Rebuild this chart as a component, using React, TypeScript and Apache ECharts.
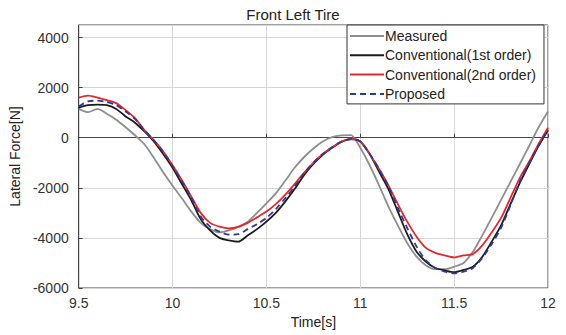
import React, { useEffect, useRef } from "react";
import * as echarts from "echarts";

const time = [
  9.5, 9.55, 9.6, 9.65, 9.7, 9.75, 9.8, 9.85, 9.9, 9.95,
  10.0, 10.05, 10.1, 10.15, 10.2, 10.25, 10.3, 10.35, 10.4, 10.45,
  10.5, 10.55, 10.6, 10.65, 10.7, 10.75, 10.8, 10.85, 10.9, 10.95,
  11.0, 11.05, 11.1, 11.15, 11.2, 11.25, 11.3, 11.35, 11.4, 11.45,
  11.5, 11.55, 11.6, 11.65, 11.7, 11.75, 11.8, 11.85, 11.9, 11.95, 12.0,
];

const measured = [
  1150, 1020, 1150, 960, 720, 420, 100, -260, -800, -1380,
  -1920, -2420, -2950, -3400, -3650, -3780, -3700, -3560, -3350, -3000,
  -2620, -2220, -1720, -1200, -780, -430, -150, 20, 90, 100,
  -400, -1100, -1900, -2750, -3500, -4200, -4750, -5100, -5250, -5250,
  -5150, -5000, -4550, -3900, -3200, -2480, -1760, -1050, -320, 420, 1050,
];

const conv1st = [
  1200, 1300, 1320, 1300, 1150, 850, 600, 250, -150, -650,
  -1200, -1850, -2500, -3250, -3700, -4000, -4100, -4150, -3900, -3650,
  -3350, -3000, -2550, -2050, -1500, -1050, -680, -400, -170, -60,
  -150, -650, -1350, -2050, -2950, -3850, -4550, -4950, -5200, -5300,
  -5370, -5280, -5150, -4750, -4150, -3500, -2650, -1800, -1050, -320, 300,
];

const conv2nd = [
  1600, 1680, 1600, 1500, 1380, 1100, 780, 300, -100, -550,
  -1100, -1700, -2350, -3000, -3400, -3550, -3620, -3560, -3400, -3180,
  -2950, -2650, -2280, -1850, -1400, -1000, -650, -380, -150, -60,
  -150, -650, -1250, -1900, -2650, -3350, -3950, -4400, -4600, -4700,
  -4780, -4700, -4640, -4300, -3780, -3200, -2400, -1600, -950, -250, 400,
];

const proposed = [
  1250, 1450, 1480, 1420, 1300, 1050, 750, 300, -100, -570,
  -1130, -1750, -2400, -3150, -3550, -3750, -3870, -3850, -3650, -3450,
  -3200, -2850, -2420, -1950, -1430, -1000, -650, -380, -150, -60,
  -150, -650, -1250, -1950, -2800, -3600, -4350, -4900, -5200, -5350,
  -5420, -5350, -5200, -4800, -4250, -3600, -2700, -1750, -1000, -300, 320,
];

const yTicks = [-6000, -4000, -2000, 0, 2000, 4000];
const xTicks = [9.5, 10, 10.5, 11, 11.5, 12];

const seriesNames = [
  "Measured",
  "Conventional(1st order)",
  "Conventional(2nd order)",
  "Proposed",
];

const FONT = "'Liberation Sans', Arial, sans-serif";

export default function App() {
  const ref = useRef<HTMLDivElement>(null);

  useEffect(() => {
    if (!ref.current) return;
    const chart = echarts.init(ref.current, undefined, { renderer: "svg" });
    const pair = (vals: number[]) => time.map((t, i) => [t, vals[i]]);
    const values = [measured, conv1st, conv2nd, proposed];
    const colors = ["#8e8e8e", "#1a1a1a", "#e8262a", "#2b3a9c"];
    chart.setOption({
      animation: false,
      textStyle: { fontFamily: FONT },
      title: {
        text: "Front Left Tire",
        left: 288,
        textAlign: "center",
        top: 2,
        textStyle: { fontSize: 15, fontWeight: "normal", color: "#222", fontFamily: FONT },
      },
      grid: {
        left: 75,
        right: 18,
        top: 25,
        bottom: 47,
        show: true,
        borderColor: "#444",
        borderWidth: 1,
        backgroundColor: "#fff",
      },
      legend: {
        data: seriesNames,
        orient: "vertical",
        left: 347,
        top: 25,
        itemWidth: 34,
        itemHeight: 14,
        itemGap: 5.3,
        padding: [4, 8, 3, 2],
        borderColor: "#333",
        borderWidth: 1,
        backgroundColor: "#fff",
        itemStyle: { opacity: 0 },
        textStyle: { fontSize: 14, color: "#222", fontFamily: FONT, padding: [0, 0, 0, -4] },
      },
      xAxis: {
        type: "value",
        min: 9.5,
        max: 12,
        interval: 0.5,
        name: "Time[s]",
        nameLocation: "middle",
        nameGap: 27,
        nameTextStyle: { fontSize: 14, color: "#222" },
        axisLine: { show: true, lineStyle: { color: "#444" } },
        axisTick: { show: true, inside: true, length: 4, lineStyle: { color: "#444" } },
        axisLabel: {
          fontSize: 14,
          color: "#333",
          margin: 8,
          formatter: (v: number) => (xTicks.includes(v) ? String(v) : ""),
        },
        splitLine: { show: true, lineStyle: { color: "#d6d6d6", width: 1 } },
      },
      yAxis: {
        type: "value",
        min: -6000,
        max: 4500,
        interval: 2000,
        name: "Lateral Force[N]",
        nameLocation: "middle",
        nameGap: 44,
        nameTextStyle: { fontSize: 14, color: "#222" },
        axisLine: { show: true, lineStyle: { color: "#444" } },
        axisTick: { show: true, inside: true, length: 4, lineStyle: { color: "#444" } },
        axisLabel: {
          fontSize: 14,
          color: "#333",
          margin: 10,
          showMaxLabel: false,
          formatter: (v: number) => (yTicks.includes(v) ? String(v) : ""),
        },
        splitLine: { show: true, lineStyle: { color: "#d6d6d6", width: 1 } },
      },
      series: seriesNames.map((name, i) => ({
        name,
        type: "line",
        data: pair(values[i]),
        showSymbol: false,
        symbol: "none",
        smooth: 0.25,
        color: colors[i],
        lineStyle: {
          color: colors[i],
          width: 1.8,
          type: i === 3 ? [6, 4] : "solid",
        },
        z: 2 + i,
      })),
    });
    return () => chart.dispose();
  }, []);

  return (
    <div
      ref={ref}
      style={{ position: "absolute", left: 0, top: 0, width: 566, height: 335 }}
    />
  );
}
